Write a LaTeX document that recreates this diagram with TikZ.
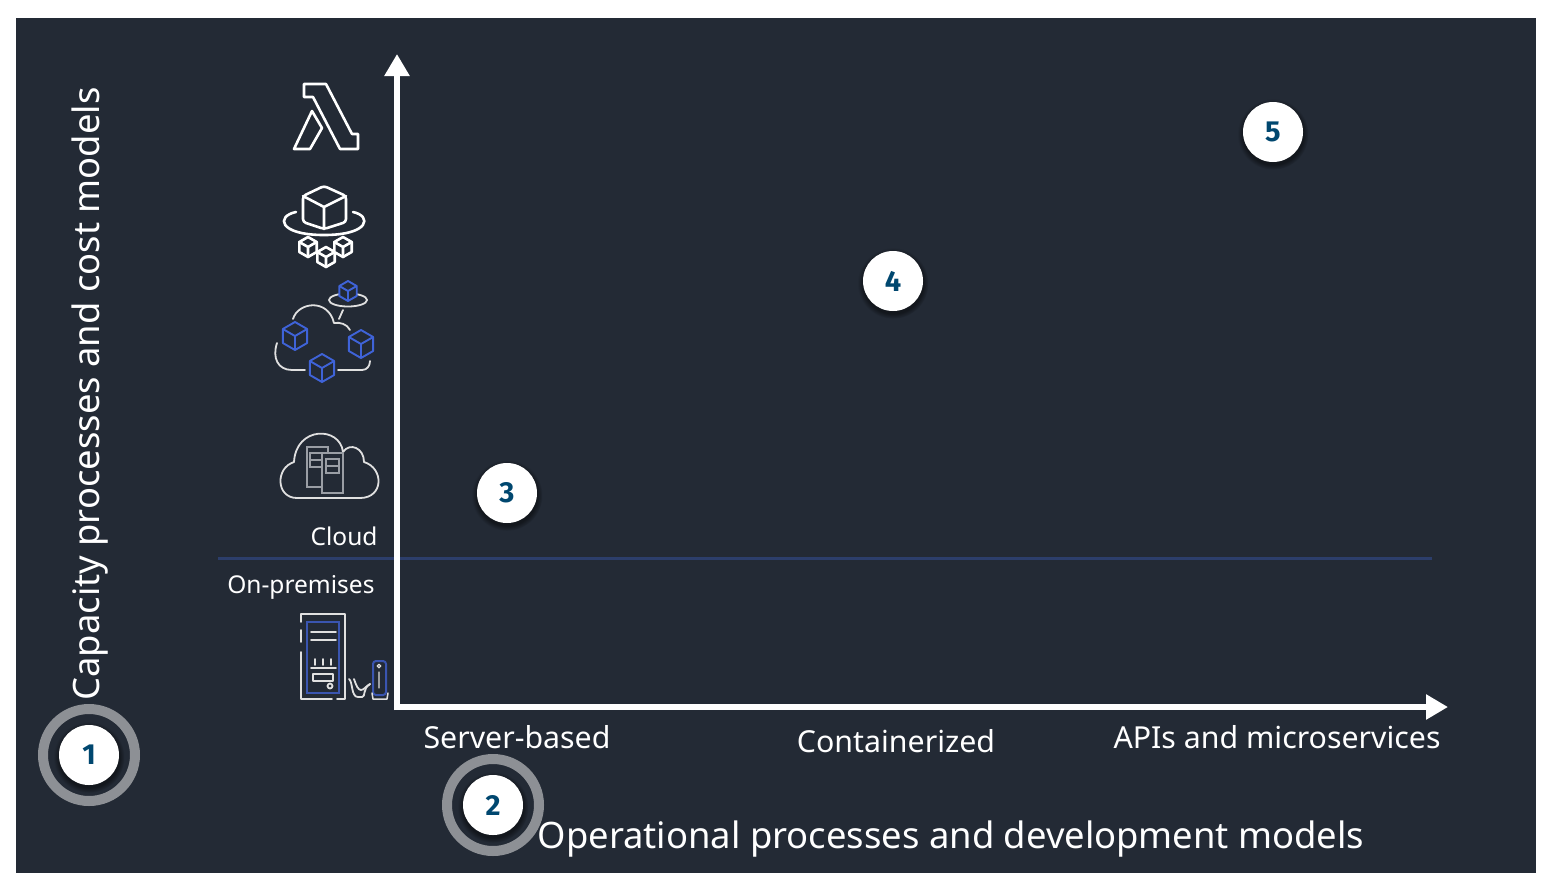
\documentclass[tikz,border=0pt]{standalone}
\usepackage{fontspec}
\setmainfont{Noto Sans}
\newfontfamily\numfont{Fira Sans}
\usetikzlibrary{arrows.meta,shadows,fadings}
\definecolor{panel}{HTML}{232A35}
\definecolor{ringgray}{HTML}{8D9095}
\definecolor{rulebl}{HTML}{2C3E6B}
\definecolor{numbl}{HTML}{00476F}
\definecolor{cubebl}{HTML}{3F63D8}
\definecolor{srvbl}{HTML}{3A55B0}
\definecolor{icongray}{HTML}{9A9EA5}
\tikzset{
  axisline/.style={draw=white,line width=6.5pt,-{Triangle[length=22pt,width=24pt]}},
  badge/.style={circle,fill=white,minimum size=60pt,inner sep=0pt,text=numbl,
    font=\numfont\bfseries\fontsize{29}{30}\selectfont,
    circular drop shadow={shadow xshift=0pt,shadow yshift=-2pt,shadow scale=1.18,opacity=0.45,fill=black}},
  ringmark/.style={circle,draw=ringgray,line width=10pt,minimum size=92pt,inner sep=0pt},
  axislabel/.style={text=white,font=\fontsize{30.3}{34}\selectfont},
  titlelabel/.style={text=white,font=\fontsize{36.4}{42}\selectfont},
  sidelabel/.style={text=white,font=\fontsize{24.5}{28}\selectfont},
  iconline/.style={draw=white,line width=2.6pt,line join=round,line cap=round},
  iconthin/.style={draw=white!88!black,line width=1.8pt,line join=round,line cap=round},
  bluecube/.style={draw=cubebl,line width=1.9pt,line join=round},
}
\newcommand{\cubeicon}[4]{%
\draw[#4,fill=panel,shift={(#1,#2)},scale=#3] (0,-1) -- (.87,-.5) -- (.87,.5) -- (0,1) -- (-.87,.5) -- (-.87,-.5) -- cycle;
\draw[#4,shift={(#1,#2)},scale=#3] (-.87,-.5) -- (0,0) -- (.87,-.5) (0,0) -- (0,1);}
\begin{document}
\begin{tikzpicture}[x=1pt,y=-1pt]
\useasboundingbox (0,0) rectangle (1554,892);
\fill[panel] (16,18) rectangle (1536,873);

% axes
\coordinate (corner) at (397,707);
\coordinate (ytop) at (397,54);
\coordinate (xend) at (1448,707);
\coordinate (ruleleft) at (218,558);
\coordinate (ruleright) at (1432,558);
\draw[rulebl,line width=3pt] (ruleleft) -- (ruleright);
\draw[axisline] (397,710) -- (ytop);
\draw[axisline] (394,707) -- (xend);

% labels
\node[titlelabel,rotate=90] (capacity) at (90,394) {Capacity processes and cost models};
\node[titlelabel] (operational) at (951,839) {Operational processes and development models};
\node[axislabel] (server) at (517,737) {Server-based};
\node[axislabel] (container) at (896,741) {Containerized};
\node[axislabel] (apis) at (1277,737) {APIs and microservices};
\node[sidelabel,anchor=east] (cloud) at (381,536) {Cloud};
\node[sidelabel,anchor=east] (onprem) at (378,587) {On-premises};

% lambda
\draw[iconline] (304,84) -- (326,84) -- (352,134) -- (358,134) -- (358,149) -- (340,149) -- (313,97) -- (304,97) -- cycle;
\draw[iconline] (312,111) -- (322,128) -- (310,149) -- (294,149) -- cycle;

% hat with cubes
\draw[iconline] (296,212) .. controls (276,216) and (278,235) .. (324,235) .. controls (370,235) and (372,216) .. (353,212);
\draw[iconline,fill=panel,rounded corners=3pt] (324,186) -- (346,196) -- (346,222) -- (324,229) -- (303,222) -- (303,196) -- cycle;
\draw[iconline] (303,196) -- (324,207) -- (346,196) (324,207) -- (324,229);
\cubeicon{308}{247}{10}{iconline}
\cubeicon{326}{257}{10}{iconline}
\cubeicon{343}{247}{10}{iconline}

% cloud with blue cubes
\draw[iconthin] (293,319) .. controls (298,302) and (328,298) .. (334,323) .. controls (340,322) and (347,324) .. (350,330);
\draw[iconthin] (277,343) .. controls (272,358) and (278,370) .. (292,370) -- (305,370);
\draw[iconthin] (338,370) -- (362,370) .. controls (367,370) and (370,366) .. (370,361);
\draw[iconthin] (343,310) -- (339,319);
\draw[iconthin] (348,300) ellipse[x radius=19,y radius=6.5];
\cubeicon{348}{291}{10}{bluecube}
\cubeicon{295}{336}{14}{bluecube}
\cubeicon{361}{344}{14}{bluecube}
\cubeicon{322}{368}{14}{bluecube}

% cloud with servers
\draw[iconthin] (297,498) .. controls (276,498) and (275,468) .. (294,462) .. controls (296,426) and (340,426) .. (343,452) .. controls (350,442) and (364,448) .. (364,462) .. controls (384,468) and (384,498) .. (360,498) -- cycle;
\draw[icongray,line width=1.4pt] (307,447) rectangle (328,487);
\draw[icongray,line width=1.4pt,fill=panel] (322,453) rectangle (343,493);
\draw[icongray,line width=1.4pt] (310,453) rectangle (322,467) (310,460) -- (322,460);
\draw[icongray,line width=1.4pt] (326,459) rectangle (339,473) (326,466) -- (339,466);

% on-premises server
\draw[iconthin] (301,622) -- (301,614) -- (345,614) -- (345,699) -- (337,699);
\draw[iconthin] (301,630) -- (301,642) (301,652) -- (301,699) -- (332,699);
\draw[srvbl,line width=2pt] (307,622) rectangle (339,693);
\draw[iconthin] (311,632) -- (336,632) (311,640) -- (336,640) (311,668) -- (336,668);
\draw[iconthin] (315,659) -- (315,665) (323,659) -- (323,665) (331,659) -- (331,665);
\draw[iconthin] (313,674) rectangle (333,681);
\draw[iconthin] (330,686) circle (2.5);
\draw[iconthin] (349,679) .. controls (353,682) and (351,697) .. (358,697) -- (362,697) .. controls (366,697) and (362,689) .. (370,684);
\draw[iconthin] (354,679) .. controls (356,685) and (358,690) .. (361,690) .. controls (364,690) and (366,686) .. (370,684);
\draw[srvbl,line width=2pt,rounded corners=3pt] (373,661) rectangle (386,695);
\draw[iconthin,line width=1.3pt] (379,666) circle (1.8) (379,672) -- (379,688);
\draw[iconthin,line width=1.5pt] (372,693) -- (373,699) -- (387,699) -- (388,693);

% rings and badges
\node[ringmark] (ring1) at (89,755) {};
\node[ringmark] (ring2) at (493,805) {};
\node[badge] (one) at (89,755) {1};
\node[badge] (two) at (493,805) {2};
\node[badge] (three) at (507,493) {3};
\node[badge] (four) at (893,281) {4};
\node[badge] (five) at (1273,132) {5};
\end{tikzpicture}
\end{document}
